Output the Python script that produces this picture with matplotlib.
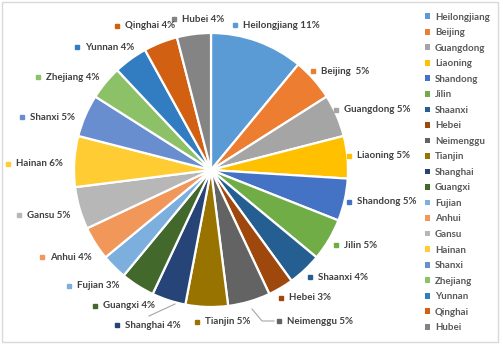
import matplotlib
matplotlib.use("Agg")
import matplotlib.pyplot as plt
from matplotlib.patches import Patch, Rectangle

provinces = ["Heilongjiang", "Beijing", "Guangdong", "Liaoning", "Shandong", "Jilin",
             "Shaanxi", "Hebei", "Neimenggu", "Tianjin", "Shanghai", "Guangxi",
             "Fujian", "Anhui", "Gansu", "Hainan", "Shanxi", "Zhejiang", "Yunnan",
             "Qinghai", "Hubei"]
shares = [11, 5, 5, 5, 5, 5, 4, 3, 5, 5, 4, 4, 3, 4, 5, 6, 5, 4, 4, 4, 4]
colors = ["#5B9BD5", "#ED7D31", "#A5A5A5", "#FFC000", "#4472C4", "#70AD47",
          "#255E91", "#9E480E", "#636363", "#997300", "#264478", "#43682B",
          "#7CAFDD", "#F1975A", "#B7B7B7", "#FFCD33", "#698ED0", "#8CC168",
          "#327DC2", "#D26012", "#848484"]

W, H = 503, 344
CX, CY, R = 211, 170, 137          # pie centre and radius in pixels

# marker anchor of each data label, in pixels from the top-left corner
label_anchor = [(235, 25), (313, 71), (336, 110), (349, 156), (349, 202), (336, 245),
                (310, 277), (281, 298), (279, 321), (197, 322), (117, 325), (95, 306),
                (69, 286), (42, 257), (19, 215), (8, 164), (22, 117), (38, 77),
                (77, 47), (117, 26), (174, 19)]


def px(x, y):
    """Pixel position -> pie data coordinates (radius 1)."""
    return (x - CX) / R, (CY - y) / R


fig = plt.figure(figsize=(W / 100, H / 100), dpi=100)
ax = fig.add_axes([0, 0, 1, 1])
font = "Lato"
txt_color = "#404040"

wedges, _ = ax.pie(shares, colors=colors, startangle=90, counterclock=False,
                   radius=1.0, wedgeprops=dict(edgecolor="white", linewidth=1.6))

ax.set_xlim(-CX / R, (W - CX) / R)
ax.set_ylim(-(H - CY) / R, CY / R)
ax.set_aspect("equal", adjustable="box")
ax.axis("off")

# data labels with a small coloured square in front
for name, val, col, (lx, ly) in zip(provinces, shares, colors, label_anchor):
    gap = "  " if name == "Beijing" else " "
    mx, my = px(lx, ly)
    ax.plot([mx], [my], marker="s", markersize=3.2, color=col, linestyle="none")
    tx, ty = px(lx + 8, ly)
    ax.text(tx, ty, f"{name}{gap}{val}%", fontsize=7, fontweight="bold",
            family=font, color=txt_color, ha="left", va="center")

# leader lines for the two labels pushed away from their slices
for pts in ([(252, 309), (262, 321), (274, 321)], [(175, 304), (149, 316)]):
    xs, ys = zip(*[px(x, y) for x, y in pts])
    ax.plot(xs, ys, color="#A6A6A6", linewidth=0.8)

handles = [Patch(facecolor=c, edgecolor="none") for c in colors]
leg = ax.legend(handles, provinces, loc="upper left",
                bbox_to_anchor=(418 / W, 1 - 6 / H), bbox_transform=fig.transFigure,
                frameon=False, prop=dict(family=font, weight="bold", size=7),
                handlelength=0.55, handleheight=0.55, handletextpad=0.5,
                labelspacing=0.67, borderpad=0.2)
for t in leg.get_texts():
    t.set_color("#595959")

fig.add_artist(Rectangle((1.5 / W, (H - 341.5) / H), 496 / W, 340 / H,
                         transform=fig.transFigure, fill=False,
                         edgecolor="#D9D9D9", linewidth=1))

fig.savefig("out.png", dpi=100, facecolor="white")
